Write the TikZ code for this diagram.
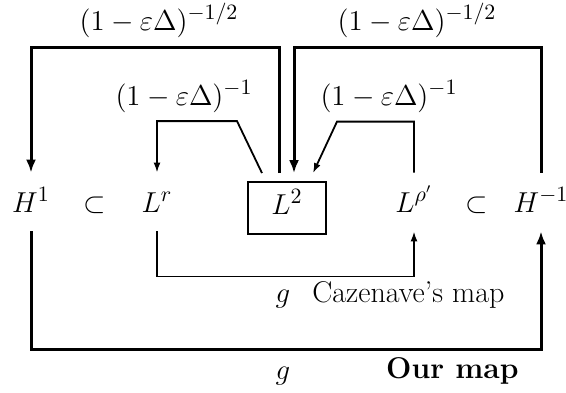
\documentclass[tikz,border=0pt]{standalone}
\usepackage{amsmath}
\usetikzlibrary{arrows.meta,calc,positioning}

\newcommand{\diagfont}{\fontsize{15}{18}\selectfont}

\tikzset{
	obj/.style={anchor=base, inner xsep=1pt, inner ysep=0pt, text height=19.5pt, text depth=9.5pt},
	spacebox/.style={anchor=base, draw, line width=0.9pt, inner sep=0pt, text height=16pt, text depth=10pt, minimum width=39pt},
	lbl/.style={anchor=base, inner sep=0pt},
	thickmap/.style={line width=1.5pt, -{Latex[length=6.5pt,width=5pt]}},
	thinmap/.style={line width=0.9pt, -{Latex[length=5pt,width=3.5pt]}}
}

\begin{document}
\begin{tikzpicture}[x=0.5pt,y=0.5pt,yscale=-1,xscale=1,font=\diagfont]
	\useasboundingbox (0,0) rectangle (566,392);
	
	% Spaces
	\node[obj] (H1) at (31,212) {$H^1$};
	\node[obj] (subL) at (95,212) {$\subset$};
	\node[obj] (Lr) at (157,212) {$L^r$};
	\node[spacebox] (L2) at (287,214) {$L^2$};
	\node[obj] (Lrho) at (414,212) {$L^{\rho'}$};
	\node[obj] (subR) at (477,212) {$\subset$};
	\node[obj] (Hm1) at (541,212) {$H^{-1}$};
	
	%Straight Lines: L2 -> H1
	\draw[thickmap] ($(L2.north)+(-8,-8)$) -- ++(0,-126) -| (H1.north);
	%Straight Lines: H-1 -> L2
	\draw[thickmap] (Hm1.north) -- ++(0,-125) -| ($(L2.north)+(7,-8)$);
	%Straight Lines: L2 -> Lr
	\draw[thinmap] ($(L2.north)+(-25,-8)$) -- ++(-25,-52) -| (Lr.north);
	%Straight Lines: Lrho -> L2
	\draw[thinmap] (Lrho.north) -- ++(0,-51) -- ++(-77,0) -- ($(L2.north)+(26,-8)$);
	%Straight Lines: Cazenave's map
	\draw[thinmap] (Lr.south) -- ++(0,45) -| (Lrho.south);
	%Straight Lines: our map
	\draw[thickmap] (H1.south) -- ++(0,118) -| (Hm1.south);
	
	% Text Node
	\node[lbl] (opLeft) at (159,30) {$(1-\varepsilon\Delta)^{-1/2}$};
	% Text Node
	\node[lbl] (opRight) at (417,30) {$(1-\varepsilon\Delta)^{-1/2}$};
	% Text Node
	\node[lbl] (resLeft) at (184,105) {$(1-\varepsilon\Delta)^{-1}$};
	% Text Node
	\node[lbl] (resRight) at (389,105) {$(1-\varepsilon\Delta)^{-1}$};
	% Text Node
	\node[lbl] (gCaz) at (283,302) {$g$};
	% Text Node
	\node[lbl,anchor=base west] (cazMap) at (312,302) {Cazenave's map};
	% Text Node
	\node[lbl] (gOur) at (283,379) {$g$};
	% Text Node
	\node[lbl,anchor=base east,font=\diagfont\bfseries] (ourMap) at (519,378) {Our map};
	
\end{tikzpicture}
\end{document}
